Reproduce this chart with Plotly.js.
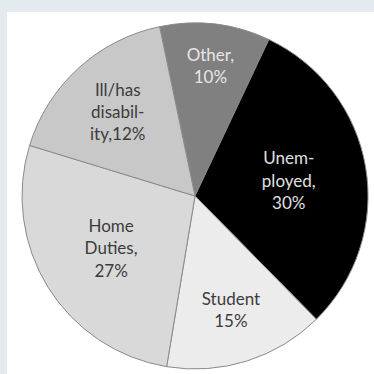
<!DOCTYPE html>
<html>
<head>
<meta charset="utf-8">
<script src="https://cdn.plot.ly/plotly-3.0.1.min.js"></script>
<style>
html,body{margin:0;padding:0;width:374px;height:374px;background:#e4ebef;overflow:hidden;}
#chart{position:absolute;left:7px;top:12px;width:367px;height:362px;}
</style>
</head>
<body>
<div id="chart"></div>
<script>
const categories = ["Other", "Unemployed", "Student", "Home Duties", "Ill/has disability"];
const shares = [10.3, 30.6, 15.0, 27.1, 17.0];
const labelTexts = ["Other,<br>10%", "Unem-<br>ployed,<br>30%", "Student<br>15%", "Home<br>Duties,<br>27%", "Ill/has<br>disabil-<br>ity,12%"];
const sliceColors = ["#808080", "#000000", "#ececec", "#d9d9d9", "#c8c8c8"];
const textColors = ["#e6e6e6", "#e0e0e0", "#3c3c3c", "#3c3c3c", "#3c3c3c"];

Plotly.newPlot("chart", [{
  type: "pie",
  labels: categories,
  values: shares,
  text: labelTexts,
  texttemplate: "%{text}",
  textinfo: "text",
  textposition: "inside",
  insidetextorientation: "horizontal",
  insidetextfont: {family: "Lato, 'Open Sans', sans-serif", size: 17, color: textColors},
  sort: false,
  direction: "clockwise",
  rotation: -11.8,
  marker: {colors: sliceColors, line: {color: "#8a8a8a", width: 1}},
  hoverinfo: "none",
  domain: {x: [0.0409, 0.9837], y: [0.0138, 0.9696]}
}], {
  width: 367, height: 362,
  margin: {l: 0, r: 0, t: 0, b: 0},
  paper_bgcolor: "#ffffff",
  showlegend: false
}, {staticPlot: true, displayModeBar: false});
</script>
</body>
</html>
